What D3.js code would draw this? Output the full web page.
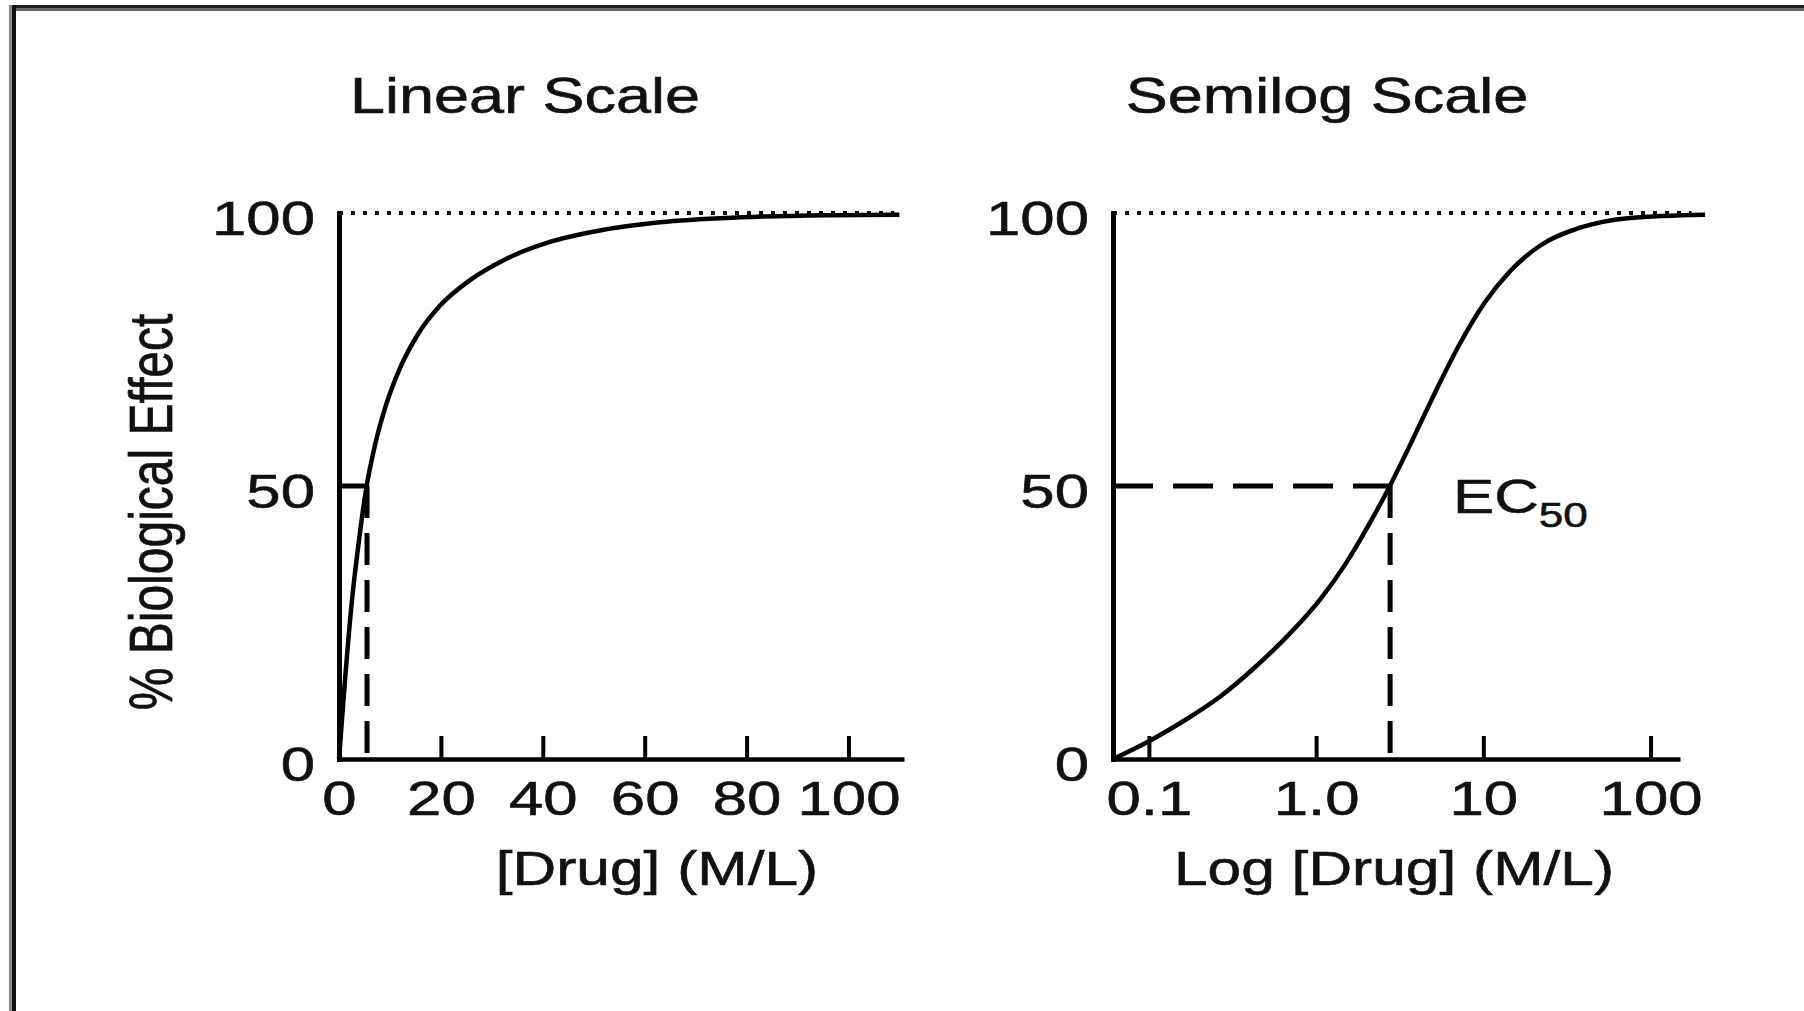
<!DOCTYPE html>
<html>
<head>
<meta charset="utf-8">
<script src="https://cdn.jsdelivr.net/npm/d3@7"></script>
<style>
  body { margin: 0; background: #fff; }
  svg { display: block; font-family: "Liberation Sans", Arial, Helvetica, sans-serif; }
  .axis path.domain, .axis line { stroke: #000; }
  .axis text, text { fill: #111; stroke: #111; stroke-width: 0.6px; }
</style>
</head>
<body>
<div id="chart"></div>
<script>
// values
var effectTicks = [0, 50, 100];

var linearTicks = [0, 20, 40, 60, 80, 100];
var linearTickLabels = ["0", "20", "40", "60", "80", "100"];
var linearDose = [0, 1.18, 2.55, 3.93, 5.3, 7.07, 9.22, 11.97, 15.5, 19.8, 25.7, 32.6, 41.4, 51.2, 63.0, 78.7, 96.4, 110];
var linearEffect = [0, 14.5, 29.1, 40.1, 49.3, 57.5, 64.8, 71.6, 77.8, 83.0, 87.7, 91.5, 94.7, 96.8, 98.3, 99.2, 99.6, 99.7];
var linearEC50 = 5.5;

var logTicks = [0.1, 1, 10, 100];
var logTickLabels = ["0.1", "1.0", "10", "100"];
var logDose = [0.061, 0.102, 0.164, 0.266, 0.431, 0.698, 1.055, 1.49, 2.04, 2.77, 3.75, 5.14, 7.25, 10.2, 14.4, 21.8, 37.9, 75.4, 212];
var logEffect = [0, 3.4, 7.1, 11.4, 16.8, 23.0, 29.2, 35.6, 42.6, 50.1, 58.3, 67.1, 76.1, 83.6, 89.3, 94.0, 97.3, 99.1, 99.7];
var logEC50 = 2.77;

var maxEffect = 100, halfEffect = 50;

var width = 1804, height = 1011;
var stretch = 1.26; // the source figure is squeezed wider than normal type

var svg = d3.select("#chart")
    .append("svg")
        .attr("width", width)
        .attr("height", height);

// frame of the scanned figure
svg.append("path").attr("d", "M9,6.5H1804").attr("stroke", "#1c1c1c").attr("stroke-width", 3);
svg.append("path").attr("d", "M9,9.5H1804").attr("stroke", "#666").attr("stroke-width", 3);
svg.append("path").attr("d", "M10.5,5V1011").attr("stroke", "#8a8a8a").attr("stroke-width", 3);
svg.append("path").attr("d", "M14,5V1011").attr("stroke", "#111").attr("stroke-width", 4);

var y = d3.scaleLinear().domain([0, 100]).range([759, 213]);

function wide(x, yy) {
    return "translate(" + x + "," + yy + ") scale(" + stretch + ",1)";
}

function panel(x, dose, effect, ticks, tickLabels, ec50, dotEnd, title, titleX, xTitle, xTitleX) {
    var x0 = x.range()[0];

    // x axis, ticks pointing up into the plot
    var gx = svg.append("g")
        .attr("class", "axis")
        .attr("transform", "translate(0," + y(0) + ")")
        .call(d3.axisBottom(x)
            .tickValues(ticks)
            .tickFormat(function(d, i) { return tickLabels[i]; })
            .tickSizeInner(-23)
            .tickSizeOuter(0))
        .attr("font-family", null)
        .attr("font-size", 49);
    gx.select(".domain").attr("stroke-width", 4.5);
    gx.selectAll(".tick line").attr("stroke-width", 4).attr("y1", 2);
    gx.selectAll(".tick text")
        .attr("y", null)
        .attr("dy", null)
        .attr("transform", wide(0, 56));

    // y axis
    var gy = svg.append("g")
        .attr("class", "axis")
        .attr("transform", "translate(" + x0 + ",0)")
        .call(d3.axisLeft(y).tickValues(effectTicks).tickSize(0))
        .attr("font-family", null)
        .attr("font-size", 49);
    gy.select(".domain").attr("stroke-width", 5).attr("stroke-linecap", "square");
    gy.selectAll(".tick text")
        .attr("x", null)
        .attr("dy", null)
        .attr("transform", wide(-24, 21));

    // dotted maximum
    svg.append("line")
        .attr("x1", x0)
        .attr("x2", x(dotEnd))
        .attr("y1", y(maxEffect))
        .attr("y2", y(maxEffect))
        .attr("stroke", "#000")
        .attr("stroke-width", 4)
        .attr("stroke-dasharray", "4,8");

    // EC50 guides
    svg.append("line")
        .attr("x1", x0)
        .attr("x2", x(ec50))
        .attr("y1", y(halfEffect))
        .attr("y2", y(halfEffect))
        .attr("stroke", "#000")
        .attr("stroke-width", 5)
        .attr("stroke-dasharray", "40,20");
    svg.append("line")
        .attr("x1", x(ec50))
        .attr("x2", x(ec50))
        .attr("y1", y(halfEffect))
        .attr("y2", y(0))
        .attr("stroke", "#000")
        .attr("stroke-width", 5)
        .attr("stroke-dasharray", "32,15");

    // dose-response curve
    var line = d3.line()
        .x(function(d) { return x(dose[d]); })
        .y(function(d) { return y(effect[d]); })
        .curve(d3.curveMonotoneX);
    svg.append("path")
        .datum(d3.range(dose.length))
        .attr("fill", "none")
        .attr("stroke", "#000")
        .attr("stroke-width", 4.5)
        .attr("stroke-linejoin", "round")
        .attr("d", line);

    svg.append("text")
        .attr("transform", wide(titleX, 113))
        .style("text-anchor", "middle")
        .style("font-size", "50px")
        .text(title);

    svg.append("text")
        .attr("transform", wide(xTitleX, 885))
        .style("text-anchor", "middle")
        .style("font-size", "48px")
        .text(xTitle);
}

var xLin = d3.scaleLinear().domain([0, 110.9]).range([339, 904]);
var xLog = d3.scaleLog().domain([0.061, 150]).range([1113, 1680]);

panel(xLin, linearDose, linearEffect, linearTicks, linearTickLabels, linearEC50, 109,
    "Linear Scale", 525, "[Drug] (M/L)", 657);
panel(xLog, logDose, logEffect, logTicks, logTickLabels, logEC50, 176,
    "Semilog Scale", 1327, "Log [Drug] (M/L)", 1394);

// y axis label
svg.append("text")
    .attr("transform", wide(172, 512) + " rotate(-90)")
    .style("text-anchor", "middle")
    .style("font-size", "48px")
    .text("% Biological Effect");

// EC50 label
var ec = svg.append("text")
    .attr("transform", wide(1453, 513))
    .style("font-size", "49px");
ec.append("tspan").text("EC");
ec.append("tspan").attr("dy", 14).style("font-size", "35px").text("50");
</script>
</body>
</html>
